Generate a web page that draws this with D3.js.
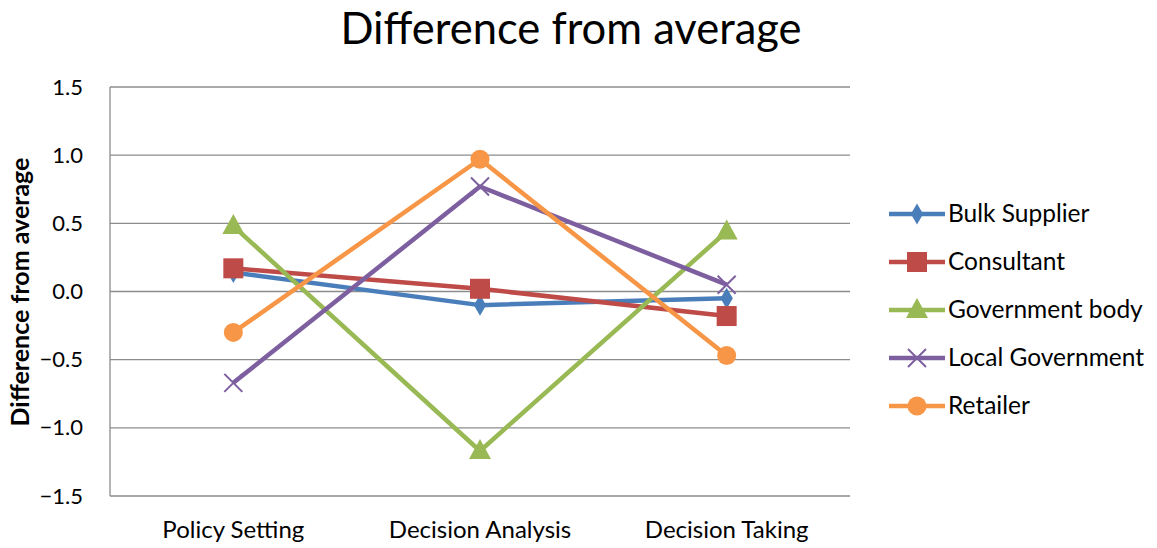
<!DOCTYPE html>
<html><head><meta charset="utf-8">
<script src="https://cdn.jsdelivr.net/npm/d3@7"></script>
<style>body{margin:0;background:#fff;} svg{display:block;}</style>
</head><body>
<svg id="chart" width="1157" height="548"></svg>
<script>
const categories = ["Policy Setting", "Decision Analysis", "Decision Taking"];
const seriesNames = ["Bulk Supplier", "Consultant", "Government body", "Local Government", "Retailer"];
const bulkSupplier = [0.14, -0.10, -0.05];
const consultant = [0.17, 0.02, -0.18];
const governmentBody = [0.48, -1.17, 0.44];
const localGovernment = [-0.67, 0.77, 0.05];
const retailer = [-0.30, 0.97, -0.47];
const yTicks = [-1.5, -1.0, -0.5, 0.0, 0.5, 1.0, 1.5];
const colors = ["#4A7EBB", "#BE4B48", "#98B954", "#7D5FA0", "#F79646"];
const markers = ["diamond", "square", "triangle", "x", "circle"];
const seriesValues = [bulkSupplier, consultant, governmentBody, localGovernment, retailer];

const font = "Lato, 'Open Sans', sans-serif";
const svg = d3.select("#chart").style("font-family", font);
const L = 110, R = 850, T = 87, B = 496;
const x = d3.scaleBand().domain(categories).range([L, R]);
const y = d3.scaleLinear().domain([-1.5, 1.5]).range([B, T]);

svg.append("text").attr("x", 571).attr("y", 44).attr("text-anchor", "middle")
  .attr("font-size", 43.5).attr("fill", "#000").text("Difference from average");

// gridlines
svg.append("g").selectAll("line").data(yTicks).join("line")
  .attr("x1", L).attr("x2", R).attr("y1", d => y(d)).attr("y2", d => y(d))
  .attr("stroke", "#8c8c8c").attr("stroke-width", 1.3);
svg.append("line").attr("x1", L).attr("x2", L).attr("y1", T).attr("y2", B)
  .attr("stroke", "#8c8c8c").attr("stroke-width", 1.3);

// y axis labels
const yAxis = d3.axisLeft(y).tickValues(yTicks).tickFormat(d3.format(".1f")).tickSize(0).tickPadding(27);
const ya = svg.append("g").attr("transform", `translate(${L},0)`).call(yAxis);
ya.select(".domain").remove();
ya.selectAll("text").attr("font-size", 22).attr("font-family", font).attr("fill", "#000");

const xAxis = d3.axisBottom(x).tickSize(0).tickPadding(25);
const xa = svg.append("g").attr("transform", `translate(0,${B})`).call(xAxis);
xa.select(".domain").remove();
xa.selectAll("text").attr("font-size", 24).attr("font-family", font).attr("fill", "#000");

svg.append("text").attr("transform", "translate(29,292) rotate(-90)")
  .attr("text-anchor", "middle").attr("font-size", 25).attr("font-weight", "bold")
  .text("Difference from average");

function drawMarker(g, type, cx, cy, color) {
  if (type === "diamond") {
    g.append("path").attr("d", d3.symbol(d3.symbolDiamond, 130)()).attr("transform", `translate(${cx},${cy})`).attr("fill", color);
  } else if (type === "square") {
    g.append("rect").attr("x", cx - 10).attr("y", cy - 10).attr("width", 20).attr("height", 20).attr("fill", color);
  } else if (type === "triangle") {
    g.append("path").attr("d", `M${cx},${cy-12}L${cx+11},${cy+8}L${cx-11},${cy+8}Z`).attr("fill", color);
  } else if (type === "x") {
    g.append("path").attr("d", `M${cx-9},${cy-9}L${cx+9},${cy+9}M${cx-9},${cy+9}L${cx+9},${cy-9}`)
      .attr("stroke", color).attr("stroke-width", 2);
  } else if (type === "circle") {
    g.append("circle").attr("cx", cx).attr("cy", cy).attr("r", 9.5).attr("fill", color);
  }
}

const cx = c => x(c) + x.bandwidth() / 2;
const line = d3.line().x((d, i) => cx(categories[i])).y(d => y(d));
seriesValues.forEach((vals, s) => {
  const g = svg.append("g");
  g.append("path").datum(vals).attr("d", line).attr("fill", "none")
    .attr("stroke", colors[s]).attr("stroke-width", 4.5).attr("stroke-linejoin", "round");
  vals.forEach((v, i) => drawMarker(g, markers[s], cx(categories[i]), y(v), colors[s]));
});

// legend
const legY = d3.scaleBand().domain(seriesNames).range([190, 430]);
seriesNames.forEach((n, s) => {
  const ly = legY(n) + legY.bandwidth() / 2;
  const g = svg.append("g");
  g.append("line").attr("x1", 889).attr("x2", 945).attr("y1", ly).attr("y2", ly)
    .attr("stroke", colors[s]).attr("stroke-width", 4.5);
  drawMarker(g, markers[s], 917, ly, colors[s]);
  g.append("text").attr("x", 948).attr("y", ly + 8).attr("font-size", 24.5).text(n);
});
</script>
</body></html>
